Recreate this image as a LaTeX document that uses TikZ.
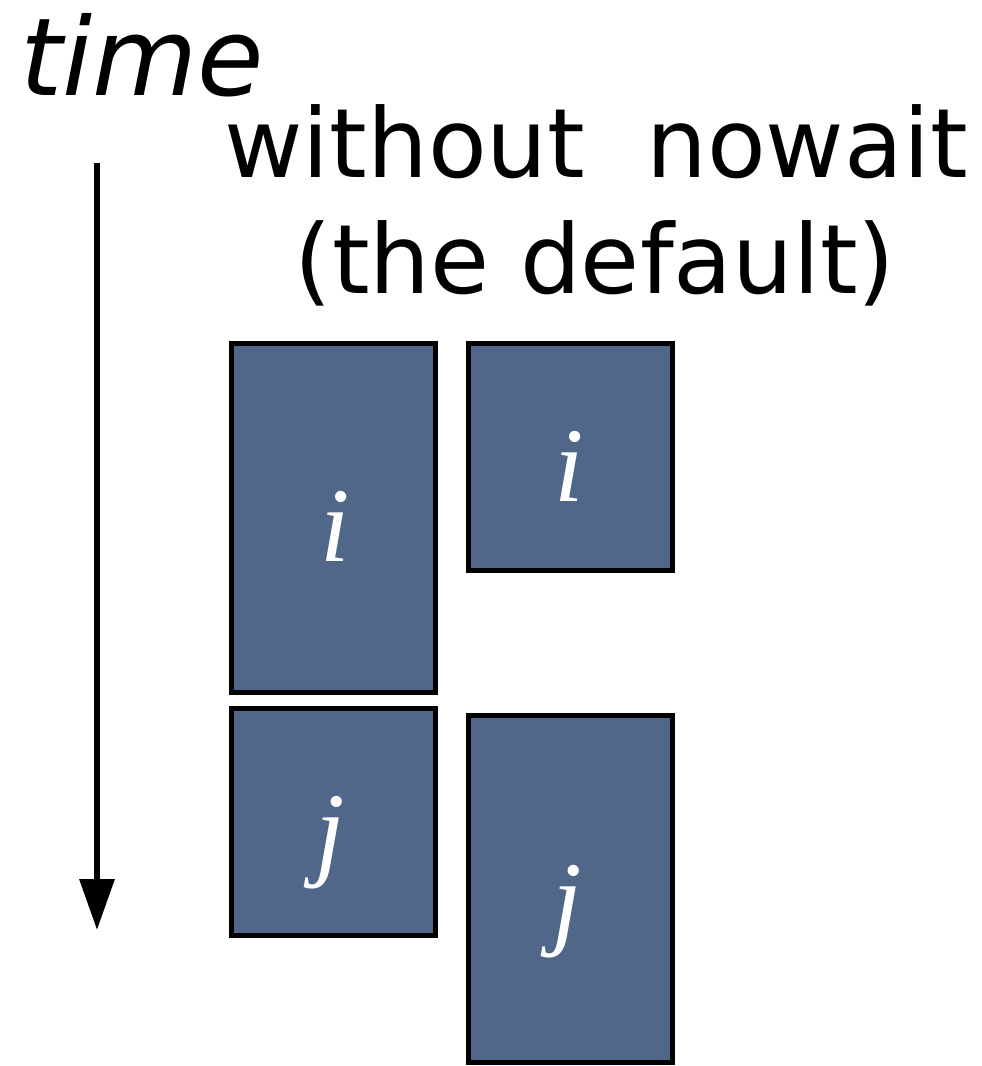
\documentclass[tikz,border=0pt]{standalone}
\usepackage{fontspec}
\setmainfont{DejaVu Sans}
\newfontfamily\letterfont{Liberation Serif}
\usetikzlibrary{arrows.meta}
\definecolor{blockblue}{RGB}{81,103,137}
\begin{document}
\begin{tikzpicture}[x=1pt,y=-1pt,
  block/.style={rectangle,draw=black,line width=5pt,fill=blockblue,
    inner sep=0pt,outer sep=0pt,minimum width=204pt},
  idx/.style={anchor=base,inner sep=0pt,text=white,
    font=\fontsize{106}{106}\selectfont\letterfont\itshape},
  heading/.style={anchor=base,inner sep=0pt,
    font=\fontsize{96}{116}\selectfont},
  timeline/.style={line width=6.5pt,-{Triangle[width=34pt,length=51pt]}}]
  \useasboundingbox (0,0) rectangle (982,1066);

  % time axis
  \node[anchor=base west,inner sep=0pt,font=\fontsize{108}{108}\selectfont\itshape]
    (timelabel) at (20,95) {time};
  \coordinate (tstart) at (97,163);
  \coordinate (tend) at (97,930);
  \draw[timeline] (tstart) -- (tend);

  % heading
  \node[heading] (head1) at (596,177) {without~~nowait};
  \node[heading] (head2) at (595,293) {(the default)};

  % thread blocks
  \node[block,minimum height=349pt] (ileft)  at (333.5,518) {};
  \node[block,minimum height=227pt] (iright) at (570,457) {};
  \node[block,minimum height=227pt] (jleft)  at (333.5,822) {};
  \node[block,minimum height=347pt] (jright) at (570,889) {};

  \node[idx] (ileftlab)  at (335,561) {i};
  \node[idx] (irightlab) at (569,501) {i};
  \node[idx] (jleftlab)  at (330,866) {j};
  \node[idx] (jrightlab) at (567,935) {j};
\end{tikzpicture}
\end{document}
